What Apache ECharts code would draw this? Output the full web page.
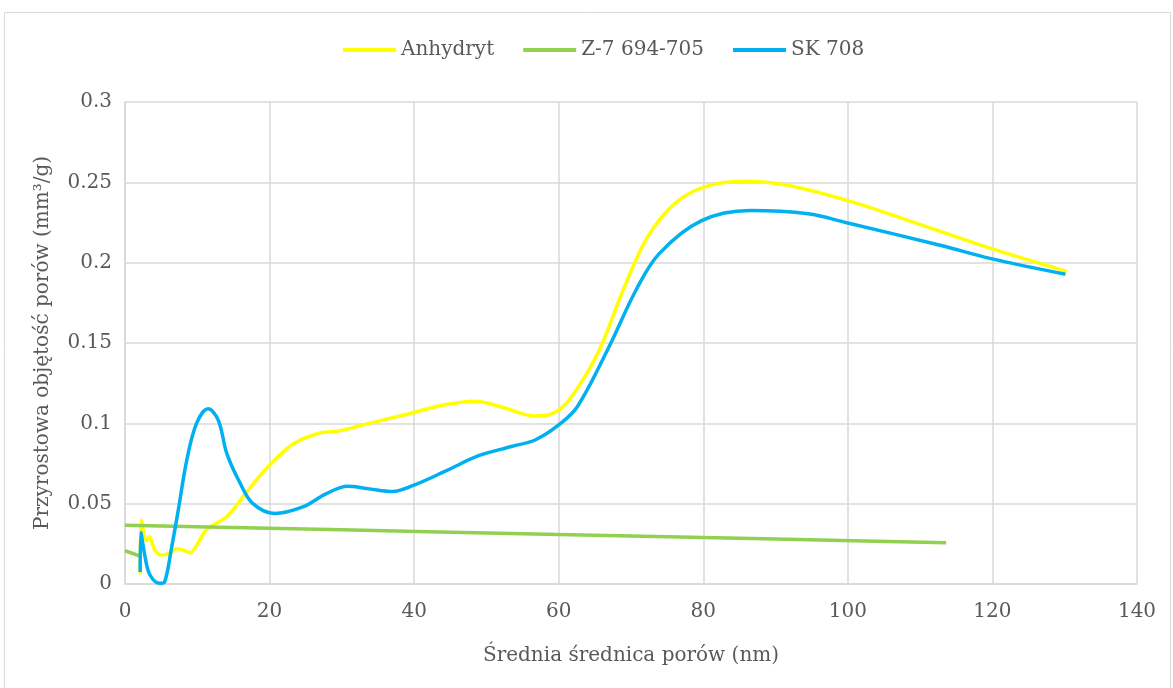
<!DOCTYPE html>
<html>
<head>
<meta charset="utf-8">
<script src="https://cdn.jsdelivr.net/npm/echarts@6/dist/echarts.min.js"></script>
<style>
  html, body { margin: 0; padding: 0; background: #fff; }
  #main { width: 1173px; height: 688px; }
</style>
</head>
<body>
<div id="main"></div>
<script>
// pore diameter (nm) and incremental pore volume (mm3/g)
var anhX = [2.1, 2.25, 3.0, 3.35, 4.15, 5.1, 6.2, 7.15, 8.1, 9.0, 10.1, 11.3, 14.1, 16.8, 19.6, 23.2, 27.0, 29.2, 33.8, 39.3, 43.9, 48.5, 52.2, 56.8, 59.1, 61.4, 65.4, 69.1, 72.3, 76.0, 80.0, 85.5, 91.8, 100.0, 107.7, 119.9, 130.3];
var anhY = [0.006, 0.040, 0.027, 0.0295, 0.021, 0.018, 0.019, 0.022, 0.021, 0.0195, 0.0255, 0.034, 0.042, 0.057, 0.072, 0.087, 0.094, 0.0949, 0.100, 0.106, 0.1112, 0.1137, 0.110, 0.1045, 0.106, 0.1143, 0.1436, 0.185, 0.216, 0.2366, 0.2469, 0.2506, 0.248, 0.2386, 0.2273, 0.2087, 0.1946];

var skX = [2.1, 2.2, 2.77, 3.46, 4.84, 5.5, 6.46, 7.37, 8.54, 9.9, 11.5, 12.9, 14.1, 15.9, 17.7, 20.7, 24.6, 27.8, 30.8, 33.8, 37.0, 39.8, 44.4, 49.0, 53.6, 56.8, 60.0, 62.6, 67.0, 70.7, 73.9, 79.7, 86.5, 94.5, 99.7, 112.9, 119.8, 130.1];
var skY = [0.0075, 0.032, 0.017, 0.0056, 0.0004, 0.0014, 0.023, 0.046, 0.077, 0.100, 0.109, 0.102, 0.081, 0.063, 0.050, 0.0439, 0.048, 0.0561, 0.0608, 0.0592, 0.0576, 0.0612, 0.0704, 0.080, 0.0857, 0.0898, 0.099, 0.1105, 0.148, 0.183, 0.2056, 0.226, 0.2324, 0.2304, 0.225, 0.2107, 0.2025, 0.1928];

var z7X = [0, 30, 60, 90, 113.6];
var z7Y = [0.0365, 0.0337, 0.0308, 0.028, 0.0257];
var z7TailX = [0, 2.1];
var z7TailY = [0.0207, 0.0174];

var seriesNames = ['Anhydryt', 'Z-7 694-705', 'SK 708'];
var seriesColors = ['#FFFF00', '#92D050', '#00B0F0'];

function pairs(xs, ys) {
  return xs.map(function (x, i) { return [x, ys[i]]; });
}

var font = 'DejaVu Serif, serif';
var txt = { fontFamily: font, fontSize: 20, color: '#595959' };
var myChart = echarts.init(document.getElementById('main'));

myChart.setOption({
  animation: false,
  textStyle: { fontFamily: font },
  graphic: [{
    type: 'rect',
    shape: { x: 4.5, y: 12.5, width: 1166, height: 690 },
    style: { fill: 'none', stroke: '#d9d9d9', lineWidth: 1 },
    silent: true
  }],
  legend: {
    top: 35,
    left: 338,
    icon: 'rect',
    itemWidth: 53,
    itemHeight: 4,
    itemGap: 29,
    textStyle: txt,
    data: seriesNames
  },
  grid: { left: 125, right: 36, top: 102, bottom: 104, containLabel: false },
  xAxis: {
    type: 'value',
    min: 0,
    max: 140,
    interval: 20,
    name: 'Średnia średnica porów (nm)',
    nameLocation: 'middle',
    nameGap: 62,
    nameTextStyle: txt,
    axisLine: { show: true, lineStyle: { color: '#d9d9d9', width: 1.5 } },
    axisTick: { show: false },
    axisLabel: Object.assign({ margin: 18 }, txt),
    splitLine: { show: true, lineStyle: { color: '#d9d9d9', width: 1.5 } }
  },
  yAxis: {
    type: 'value',
    min: 0,
    max: 0.3,
    interval: 0.05,
    name: 'Przyrostowa objętość porów (mm³/g)',
    nameLocation: 'middle',
    nameGap: 72,
    nameTextStyle: txt,
    axisLine: { show: true, lineStyle: { color: '#d9d9d9', width: 1.5 } },
    axisTick: { show: false },
    axisLabel: Object.assign({ margin: 13 }, txt),
    splitLine: { show: true, lineStyle: { color: '#d9d9d9', width: 1.5 } }
  },
  series: [
    {
      name: seriesNames[0],
      type: 'line',
      data: pairs(anhX, anhY),
      smooth: 0.35,
      showSymbol: false,
      symbol: 'none',
      color: seriesColors[0],
      lineStyle: { color: seriesColors[0], width: 3.5 },
      z: 2
    },
    {
      name: seriesNames[1],
      type: 'line',
      data: pairs(z7X, z7Y),
      smooth: 0.35,
      showSymbol: false,
      symbol: 'none',
      color: seriesColors[1],
      lineStyle: { color: seriesColors[1], width: 3.5 },
      z: 3
    },
    {
      name: seriesNames[1],
      type: 'line',
      data: pairs(z7TailX, z7TailY),
      showSymbol: false,
      symbol: 'none',
      color: seriesColors[1],
      lineStyle: { color: seriesColors[1], width: 3.5 },
      z: 3
    },
    {
      name: seriesNames[2],
      type: 'line',
      data: pairs(skX, skY),
      smooth: 0.35,
      showSymbol: false,
      symbol: 'none',
      color: seriesColors[2],
      lineStyle: { color: seriesColors[2], width: 3.5 },
      z: 4
    }
  ]
});
</script>
</body>
</html>
